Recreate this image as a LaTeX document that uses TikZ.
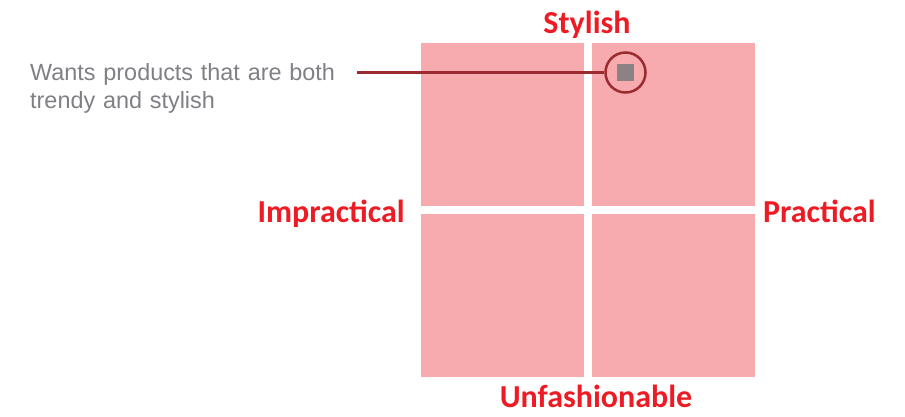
\documentclass[tikz,border=0pt]{standalone}
\usepackage{fontspec}
\setmainfont{Liberation Sans}
\newfontfamily\axisfont{Carlito}
\usepackage{tikz}
\usetikzlibrary{positioning, calc}
\definecolor{QuadPink}{HTML}{F7ABAE}
\definecolor{AxisRed}{HTML}{ED1C24}
\definecolor{LeadRed}{HTML}{9B2B30}
\definecolor{NoteGray}{HTML}{7F7F85}
\definecolor{DotGray}{HTML}{8C8283}

\begin{document}
\begin{tikzpicture}[
  x=1pt, y=-1pt,
  quad/.style={rectangle, fill=QuadPink, draw=none, minimum width=163pt, minimum height=163pt, inner sep=0pt},
  axis/.style={font=\axisfont\bfseries\fontsize{32}{36}\selectfont, text=AxisRed, inner sep=0pt},
  note/.style={font=\fontsize{23.4}{28}\selectfont, text=NoteGray, text width=327pt, align=left, inner sep=0pt},
  lead/.style={draw=LeadRed, line width=2.5pt}
]
\useasboundingbox (0,0) rectangle (905,416);

% Quadrants
\foreach \name/\cx/\cy in {tl/502.5/124.5, tr/673/124.5, bl/502.5/295, br/673/295} {
  \node[quad] (\name) at (\cx,\cy) {};
}

% Axis labels
\node[axis, anchor=base] (stylish) at (587,33) {Stylish};
\node[axis, anchor=base] (unfash) at (596,407) {Unfashionable};
\node[axis, anchor=base east] (impract) at (405,222) {Impractical};
\node[axis, anchor=base west] (pract) at (763,222) {Practical};

% Marked position
\node[rectangle, fill=DotGray, minimum size=17pt, inner sep=0pt] (dot) at (625.5,72.5) {};
\node[circle, draw=LeadRed, line width=2.5pt, minimum size=40pt, inner sep=0pt] (mark) at (625.5,72.5) {};

% Annotation
\node[note, anchor=north west] (wants) at (30,63) {Wants products that are both\\trendy and stylish};
\draw[lead] (wants.east |- mark.west) -- (mark.west);

\end{tikzpicture}
\end{document}
